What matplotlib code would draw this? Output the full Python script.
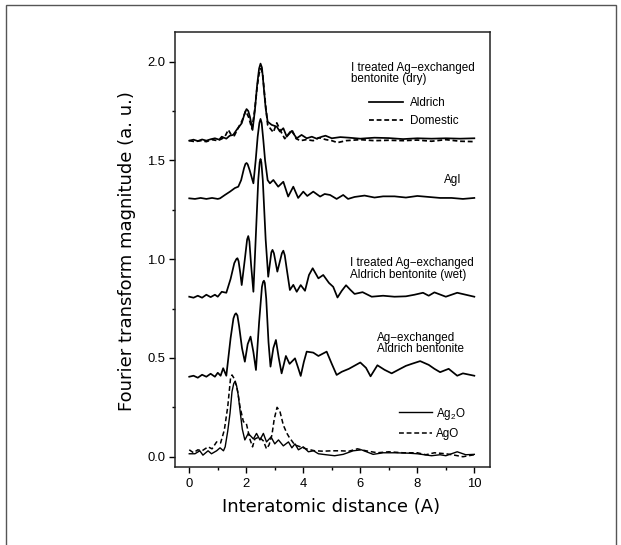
import matplotlib
matplotlib.use("Agg")
import matplotlib.pyplot as plt
from matplotlib.patches import Rectangle
from matplotlib.ticker import MultipleLocator, FormatStrFormatter

plt.rcParams['font.family'] = ['Liberation Sans', 'DejaVu Sans']
plt.rcParams['mathtext.fontset'] = 'custom'
plt.rcParams['mathtext.rm'] = 'Liberation Sans'
plt.rcParams['lines.scale_dashes'] = False

# ---------------- data ----------------
dry_aldrich_x = [0, 0.15, 0.3, 0.45, 0.6, 0.75, 0.9, 1.05, 1.14, 1.3, 1.42, 1.54, 1.66, 1.84,
                 1.96, 2.01, 2.07, 2.13, 2.22, 2.30, 2.38, 2.45, 2.50, 2.55, 2.62, 2.68, 2.75,
                 2.89, 3.07, 3.18, 3.3, 3.42, 3.59, 3.77, 3.94, 4.12, 4.3, 4.47, 4.65, 4.78,
                 5.0, 5.3, 5.6, 6.0, 6.5, 7.0, 7.5, 8.0, 8.5, 9.0, 9.5, 10]
dry_aldrich_y = [1.60, 1.605, 1.598, 1.606, 1.60, 1.607, 1.612, 1.605, 1.62, 1.61, 1.625,
                 1.629, 1.654, 1.688, 1.745, 1.76, 1.75, 1.72, 1.654, 1.75, 1.88, 1.965,
                 1.99, 1.97, 1.86, 1.764, 1.696, 1.68, 1.671, 1.646, 1.663, 1.62, 1.649, 1.612,
                 1.629, 1.612, 1.62, 1.61, 1.62, 1.625, 1.612, 1.618, 1.615, 1.61, 1.615,
                 1.613, 1.608, 1.612, 1.61, 1.612, 1.61, 1.612]

dry_domestic_x = [0, 0.2, 0.4, 0.6, 0.8, 1.0, 1.15, 1.25, 1.37, 1.47, 1.58, 1.7, 1.85, 1.98,
                  2.08, 2.2, 2.3, 2.38, 2.45, 2.52, 2.58, 2.65, 2.75, 2.85, 2.95, 3.07, 3.2,
                  3.35, 3.6, 3.75, 3.9, 4.1, 4.35, 4.55, 4.8, 5.0, 5.2, 5.5, 6.0, 6.5, 7.0,
                  7.5, 8.0, 8.5, 9.0, 9.5, 10]
dry_domestic_y = [1.60, 1.595, 1.60, 1.595, 1.605, 1.60, 1.61, 1.62, 1.655, 1.63, 1.625, 1.66,
                  1.70, 1.75, 1.72, 1.66, 1.76, 1.87, 1.94, 1.965, 1.93, 1.82, 1.68, 1.66,
                  1.642, 1.69, 1.65, 1.61, 1.655, 1.61, 1.60, 1.605, 1.60, 1.615, 1.605, 1.60,
                  1.59, 1.60, 1.605, 1.60, 1.602, 1.60, 1.603, 1.597, 1.605, 1.597, 1.595]

agi_x = [0, 0.2, 0.4, 0.6, 0.8, 1.0, 1.08, 1.25, 1.43, 1.6, 1.72, 1.82, 1.92, 1.97, 2.01, 2.05,
         2.12, 2.25, 2.33, 2.4, 2.46, 2.5, 2.54, 2.6, 2.66, 2.75, 2.83, 2.95, 3.12, 3.3, 3.47,
         3.65, 3.82, 4.0, 4.14, 4.35, 4.59, 4.75, 4.94, 5.17, 5.4, 5.57, 5.8, 6.15, 6.5, 6.8,
         7.2, 7.6, 8.0, 8.4, 8.8, 9.2, 9.6, 10]
agi_y = [1.308, 1.305, 1.31, 1.305, 1.31, 1.305, 1.308, 1.325, 1.342, 1.36, 1.367, 1.40, 1.46,
         1.482, 1.487, 1.48, 1.45, 1.384, 1.50, 1.62, 1.69, 1.71, 1.69, 1.60, 1.50, 1.40,
         1.384, 1.401, 1.367, 1.392, 1.317, 1.367, 1.31, 1.342, 1.32, 1.342, 1.317, 1.33,
         1.325, 1.305, 1.325, 1.305, 1.315, 1.322, 1.312, 1.318, 1.318, 1.312, 1.32, 1.315,
         1.31, 1.31, 1.305, 1.31]

wet_x = [0, 0.15, 0.3, 0.45, 0.6, 0.75, 0.9, 1.0, 1.14, 1.3, 1.45, 1.58, 1.65, 1.69, 1.73, 1.79,
         1.84, 1.95, 2.03, 2.07, 2.11, 2.17, 2.25, 2.33, 2.42, 2.47, 2.5, 2.53, 2.58, 2.68,
         2.77, 2.88, 2.92, 2.97, 3.09, 3.25, 3.3, 3.35, 3.42, 3.53, 3.65, 3.77, 3.91, 4.06,
         4.2, 4.33, 4.53, 4.7, 4.9, 5.05, 5.2, 5.35, 5.5, 5.65, 5.8, 6.08, 6.4, 6.8, 7.2,
         7.6, 7.9, 8.2, 8.4, 8.6, 9.0, 9.4, 9.7, 10]
wet_y = [0.81, 0.805, 0.815, 0.805, 0.82, 0.808, 0.82, 0.81, 0.835, 0.83, 0.90, 0.98, 1.0,
         1.005, 0.99, 0.93, 0.869, 1.0, 1.10, 1.117, 1.09, 0.97, 0.835, 1.1, 1.40, 1.49,
         1.507, 1.49, 1.40, 1.10, 0.911, 1.035, 1.047, 1.03, 0.937, 1.03, 1.043, 1.02, 0.95,
         0.844, 0.87, 0.835, 0.869, 0.84, 0.92, 0.954, 0.903, 0.92, 0.88, 0.86, 0.806,
         0.84, 0.868, 0.845, 0.824, 0.833, 0.81, 0.815, 0.81, 0.812, 0.82, 0.83, 0.815,
         0.832, 0.81, 0.83, 0.82, 0.81]

agex_x = [0, 0.15, 0.3, 0.45, 0.6, 0.75, 0.9, 1.0, 1.1, 1.19, 1.3, 1.45, 1.55, 1.6, 1.64, 1.69,
          1.75, 1.85, 1.95, 2.05, 2.15, 2.25, 2.34, 2.45, 2.55, 2.59, 2.62, 2.65, 2.7, 2.78,
          2.85, 2.95, 3.04, 3.14, 3.24, 3.39, 3.52, 3.71, 3.82, 3.91, 4.02, 4.12, 4.35, 4.53,
          4.82, 5.0, 5.17, 5.35, 5.6, 6.0, 6.2, 6.36, 6.6, 6.85, 7.1, 7.4, 7.6, 7.8, 8.1,
          8.4, 8.6, 8.8, 9.1, 9.4, 9.6, 10]
agex_y = [0.405, 0.41, 0.40, 0.415, 0.405, 0.42, 0.405, 0.425, 0.41, 0.448, 0.41, 0.60, 0.70,
          0.72, 0.726, 0.715, 0.66, 0.55, 0.481, 0.57, 0.608, 0.53, 0.439, 0.68, 0.86, 0.885,
          0.891, 0.88, 0.80, 0.58, 0.456, 0.55, 0.591, 0.50, 0.422, 0.51, 0.47, 0.498, 0.45,
          0.409, 0.48, 0.532, 0.527, 0.51, 0.532, 0.47, 0.414, 0.43, 0.445, 0.477, 0.45,
          0.407, 0.463, 0.44, 0.422, 0.445, 0.46, 0.47, 0.484, 0.465, 0.445, 0.428, 0.445,
          0.41, 0.422, 0.41]

ag2o_x = [0, 0.2, 0.37, 0.48, 0.66, 0.78, 0.96, 1.08, 1.2, 1.26, 1.35, 1.43, 1.5, 1.56, 1.6,
          1.66, 1.72, 1.78, 1.86, 1.95, 2.07, 2.25, 2.36, 2.48, 2.6, 2.71, 2.87, 3.0, 3.13,
          3.3, 3.48, 3.6, 3.71, 3.83, 4.0, 4.18, 4.36, 4.53, 4.8, 5.1, 5.4, 5.75, 6.04, 6.45,
          6.8, 7.2, 7.7, 8.0, 8.5, 8.8, 9.0, 9.4, 9.7, 10]
ag2o_y = [0.015, 0.015, 0.03, 0.008, 0.03, 0.015, 0.03, 0.045, 0.03, 0.05, 0.13, 0.22, 0.33,
          0.37, 0.38, 0.36, 0.31, 0.236, 0.14, 0.085, 0.118, 0.09, 0.118, 0.085, 0.118, 0.075,
          0.10, 0.065, 0.085, 0.055, 0.075, 0.045, 0.065, 0.035, 0.05, 0.025, 0.03, 0.015,
          0.01, 0.005, 0.012, 0.03, 0.035, 0.012, 0.02, 0.02, 0.018, 0.015, 0.005, 0.01,
          0.005, 0.025, 0.01, 0.012]

ago_x = [0, 0.15, 0.3, 0.45, 0.66, 0.8, 0.96, 1.1, 1.23, 1.35, 1.45, 1.5, 1.6, 1.7, 1.78, 1.9,
         2.0, 2.13, 2.22, 2.3, 2.45, 2.6, 2.71, 2.8, 2.9, 2.98, 3.08, 3.18, 3.3, 3.42, 3.5,
         3.7, 3.9, 4.1, 4.4, 4.7, 5.0, 5.3, 5.6, 5.9, 6.2, 6.6, 7.0, 7.5, 8.0, 8.3, 8.6, 9.0,
         9.3, 9.6, 10]
ago_y = [0.035, 0.02, 0.035, 0.03, 0.05, 0.04, 0.075, 0.07, 0.135, 0.253, 0.40, 0.414, 0.39,
         0.33, 0.253, 0.177, 0.17, 0.088, 0.05, 0.09, 0.10, 0.08, 0.04, 0.06, 0.11, 0.19, 0.25,
         0.23, 0.16, 0.12, 0.10, 0.06, 0.05, 0.04, 0.03, 0.028, 0.03, 0.03, 0.028, 0.04, 0.03,
         0.02, 0.025, 0.02, 0.02, 0.01, 0.02, 0.015, 0.008, 0.0, 0.01]

x_ticks = [0, 2, 4, 6, 8, 10]
y_ticks = [0.0, 0.5, 1.0, 1.5, 2.0]

# ---------------- figure ----------------
W, H = 621, 545
fig = plt.figure(figsize=(W / 100, H / 100), dpi=100)
fig.patch.set_facecolor('white')
ax = fig.add_axes([175 / W, 1 - 466.8 / H, (490 - 175) / W, (466.8 - 32) / H])

LW = 1.25
DASH = (3.5, 2.0)
col = 'black'
kw = dict(color=col, solid_joinstyle='round', dash_joinstyle='round')
l_ald, = ax.plot(dry_aldrich_x, dry_aldrich_y, lw=LW, label='Aldrich', **kw)
l_dom, = ax.plot(dry_domestic_x, dry_domestic_y, lw=LW, dashes=DASH, label='Domestic', **kw)
ax.plot(agi_x, agi_y, lw=LW, **kw)
ax.plot(wet_x, wet_y, lw=LW, **kw)
ax.plot(agex_x, agex_y, lw=LW, **kw)
l_ag2o, = ax.plot(ag2o_x, ag2o_y, lw=1.0, label='Ag$_\\mathregular{2}$O', **kw)
l_ago, = ax.plot(ago_x, ago_y, lw=1.1, dashes=DASH, label='AgO', **kw)

ax.set_xlim(-0.5, 10.55)
ax.set_ylim(-0.051, 2.15)
ax.set_xticks(x_ticks)
ax.set_yticks(y_ticks)
ax.xaxis.set_minor_locator(MultipleLocator(1))
ax.yaxis.set_minor_locator(MultipleLocator(0.25))
ax.yaxis.set_major_formatter(FormatStrFormatter('%.1f'))
ax.tick_params(which='both', direction='out', width=1.0, top=False, right=False)
ax.tick_params(which='major', length=4.5, labelsize=9.4, pad=2.5)
ax.tick_params(which='minor', length=2.5)
ax.tick_params(axis='x', which='major', pad=3.5)
for s in ax.spines.values():
    s.set_linewidth(1.1)
    s.set_color('#222222')

ax.set_xlabel('Interatomic distance (A)', family='DejaVu Sans', fontsize=13)
ax.set_ylabel('Fourier transform magnitude (a. u.)', family='DejaVu Sans', fontsize=13)
ax.xaxis.set_label_coords(0.4965, -0.072)
ax.yaxis.set_label_coords(-0.125, 0.497)

TF = 8.4
ax.text(5.67, 1.967, 'I treated Ag\u2212exchanged', fontsize=TF, va='center', ha='left')
ax.text(5.67, 1.912, 'bentonite (dry)', fontsize=TF, va='center', ha='left')
ax.text(8.92, 1.402, 'AgI', fontsize=TF, va='center', ha='left')
ax.text(5.63, 0.981, 'I treated Ag\u2212exchanged', fontsize=TF, va='center', ha='left')
ax.text(5.63, 0.922, 'Aldrich bentonite (wet)', fontsize=TF, va='center', ha='left')
ax.text(6.6, 0.600, 'Ag\u2212exchanged', fontsize=TF, va='center', ha='left')
ax.text(6.6, 0.547, 'Aldrich bentonite', fontsize=TF, va='center', ha='left')

leg1 = ax.legend(handles=[l_ald, l_dom], loc='center left', bbox_to_anchor=(6.30, 1.743),
                 bbox_transform=ax.transData, frameon=False, fontsize=TF, borderpad=0,
                 borderaxespad=0, handlelength=2.9, handletextpad=0.6, labelspacing=0.5)
ax.add_artist(leg1)
ax.legend(handles=[l_ag2o, l_ago], loc='center left', bbox_to_anchor=(7.36, 0.172),
          bbox_transform=ax.transData, frameon=False, fontsize=TF, borderpad=0,
          borderaxespad=0, handlelength=2.8, handletextpad=0.35, labelspacing=0.55)

# outer frame of the picture
fig.patches.append(Rectangle((6 / W, -0.1), (616 - 6) / W, 1.1 - 5 / H, transform=fig.transFigure,
                             fill=False, edgecolor='#555555', lw=1.0))

fig.savefig('out.png', dpi=100)
